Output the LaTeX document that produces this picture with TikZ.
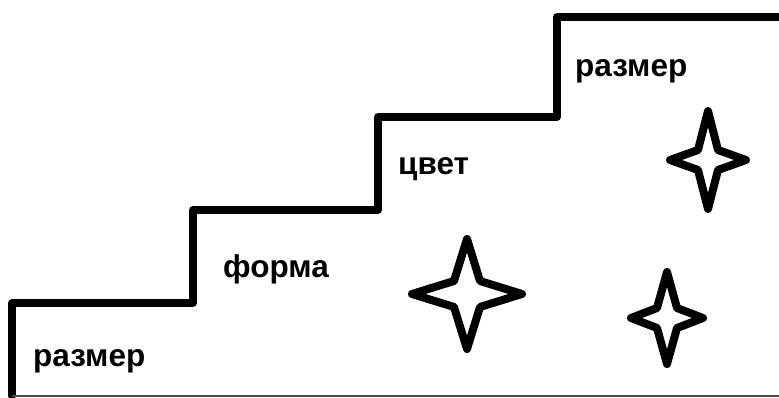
\documentclass[tikz,border=0pt]{standalone}
\usepackage{fontspec}
\setmainfont{Liberation Sans}
\usepackage{tikz}

\tikzset{
  stairline/.style={line width=7.5pt,line join=round,line cap=round},
  starline/.style={line width=8pt,line join=round},
  steplabel/.style={anchor=base west,inner sep=0pt,font=\bfseries\fontsize{31.5}{36}\selectfont}
}

\begin{document}
\begin{tikzpicture}[x=1pt,y=-1pt]
\useasboundingbox (0,0) rectangle (779,398);
% stairs
\draw[stairline] (12,396) -- (12,303) -- (193,303) -- (193,210) -- (378,210) -- (378,117) -- (557,117) -- (557,17) -- (782,17);
\draw[line width=2pt,black!70] (12,396) -- (779,396);
% labels
\node[steplabel] (size1) at (33,366) {размер};
\node[steplabel] (shape) at (223,277) {форма};
\node[steplabel] (colour) at (398,175) {цвет};
\node[steplabel] (size2) at (575,77) {размер};
% stars
\draw[starline,shift={(467,294)}] (0,-55) -- (13,-13) -- (55,0) -- (13,13) -- (0,55) -- (-13,13) -- (-55,0) -- (-13,-13) -- cycle;
\draw[starline,shift={(667,318)}] (0,-46) -- (10,-10) -- (36,0) -- (10,10) -- (0,46) -- (-10,10) -- (-36,0) -- (-10,-10) -- cycle;
\draw[starline,shift={(708,160)}] (0,-49) -- (10,-10) -- (38,0) -- (10,10) -- (0,49) -- (-10,10) -- (-38,0) -- (-10,-10) -- cycle;
\end{tikzpicture}
\end{document}
